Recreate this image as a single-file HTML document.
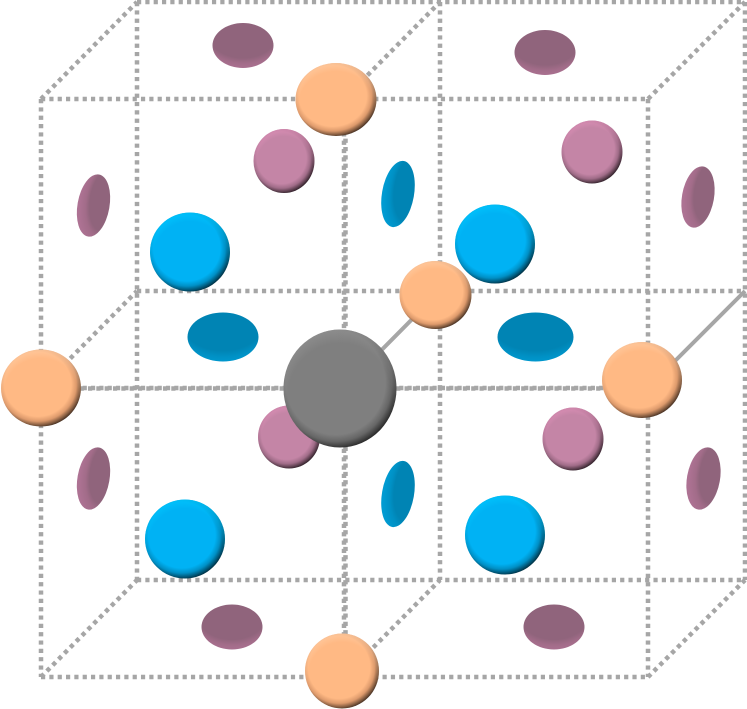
<!DOCTYPE html>
<html><head><meta charset="utf-8"><style>html,body{margin:0;padding:0;background:#fff}svg{display:block}</style></head>
<body>
<svg width="747" height="709" viewBox="0 0 747 709" xmlns="http://www.w3.org/2000/svg">
<defs>
<radialGradient id="sO" cx=".46" cy=".45" r=".58"><stop offset="0" stop-color="#ffb984"/><stop offset=".72" stop-color="#ffb984"/><stop offset=".83" stop-color="#dd9a6c"/><stop offset=".92" stop-color="#80593e"/><stop offset="1" stop-color="#241812"/></radialGradient>
<radialGradient id="sG" cx=".46" cy=".45" r=".58"><stop offset="0" stop-color="#7f7f7f"/><stop offset=".76" stop-color="#7f7f7f"/><stop offset=".86" stop-color="#666"/><stop offset=".93" stop-color="#404040"/><stop offset="1" stop-color="#181818"/></radialGradient>
<radialGradient id="sP" cx=".46" cy=".45" r=".58"><stop offset="0" stop-color="#c485a6"/><stop offset=".7" stop-color="#c485a6"/><stop offset=".82" stop-color="#a06c88"/><stop offset=".92" stop-color="#573b4a"/><stop offset="1" stop-color="#1a1116"/></radialGradient>
<radialGradient id="sB" cx=".46" cy=".45" r=".58"><stop offset="0" stop-color="#00b2f4"/><stop offset=".72" stop-color="#00b2f4"/><stop offset=".83" stop-color="#0090c6"/><stop offset=".92" stop-color="#005474"/><stop offset="1" stop-color="#021a24"/></radialGradient>
<radialGradient id="rO" cx=".5" cy=".58" r=".58"><stop offset=".8" stop-color="#ffd2ac" stop-opacity="0"/><stop offset="1" stop-color="#ffd2ac" stop-opacity=".55"/></radialGradient>
<radialGradient id="rG" cx=".5" cy=".58" r=".58"><stop offset=".8" stop-color="#9a9a9a" stop-opacity="0"/><stop offset="1" stop-color="#9a9a9a" stop-opacity=".5"/></radialGradient>
<radialGradient id="rP" cx=".5" cy=".58" r=".58"><stop offset=".8" stop-color="#e592bc" stop-opacity="0"/><stop offset="1" stop-color="#e592bc" stop-opacity=".6"/></radialGradient>
<radialGradient id="rB" cx=".5" cy=".58" r=".58"><stop offset=".8" stop-color="#00c8ff" stop-opacity="0"/><stop offset="1" stop-color="#00c8ff" stop-opacity=".7"/></radialGradient>
<radialGradient id="hM" cx=".5" cy=".2" r=".85"><stop offset="0" stop-color="#90647c"/><stop offset=".68" stop-color="#90647c"/><stop offset=".82" stop-color="#a26c89"/><stop offset="1" stop-color="#ad7293"/></radialGradient>
<radialGradient id="hB" cx=".5" cy=".2" r=".85"><stop offset="0" stop-color="#0084b4"/><stop offset=".68" stop-color="#0084b4"/><stop offset=".82" stop-color="#0090c4"/><stop offset="1" stop-color="#009bd2"/></radialGradient>
<radialGradient id="vM" cx=".85" cy=".38" r=".8"><stop offset="0" stop-color="#90647c"/><stop offset=".62" stop-color="#90647c"/><stop offset=".76" stop-color="#a26c89"/><stop offset="1" stop-color="#ad7293"/></radialGradient>
<radialGradient id="vB" cx=".85" cy=".38" r=".8"><stop offset="0" stop-color="#0084b4"/><stop offset=".62" stop-color="#0084b4"/><stop offset=".76" stop-color="#0090c4"/><stop offset="1" stop-color="#009bd2"/></radialGradient>
</defs>
<g fill="none" stroke="#a6a6a6" stroke-width="4.500" stroke-dasharray="4.200 4.130">
<path d="M41 99H648M137 2H745M137 580H745M41 677H648M137 291H745"/>
<path d="M41 99V677M137 2V580M648 99V677M745 2V580M440 2V580"/>
<path d="M41 99L137 2M648 99L745 2M41 677L137 580M648 677L745 580M344 99L440 2M344 677L440 580M41 388L137 291"/>
<path d="M344 99V677M41 388H648"/>
<path d="M345.500 99V677" stroke-dashoffset="2"/>
<path d="M41 388.500H648" stroke-dashoffset="3"/>
</g>
<path d="M648 388L745 291M344 388L440 291" stroke="#a6a6a6" stroke-width="4" fill="none"/>

<ellipse cx="243" cy="45.500" rx="30.500" ry="22.500" fill="url(#hM)"/>
<ellipse cx="545" cy="52.500" rx="30.500" ry="22.500" fill="url(#hM)"/>
<ellipse cx="232" cy="627" rx="30.500" ry="22.500" fill="url(#hM)"/>
<ellipse cx="554" cy="627" rx="30.500" ry="22.500" fill="url(#hM)"/>
<ellipse cx="93.500" cy="205.500" rx="16" ry="31.500" transform="rotate(10 93.500 205.500)" fill="url(#vM)"/>
<ellipse cx="698" cy="197" rx="16" ry="31" transform="rotate(10 698 197)" fill="url(#vM)"/>
<ellipse cx="93.500" cy="478.500" rx="16" ry="31.500" transform="rotate(10 93.500 478.500)" fill="url(#vM)"/>
<ellipse cx="703.500" cy="478.500" rx="16.500" ry="31.500" transform="rotate(10 703.500 478.500)" fill="url(#vM)"/>
<ellipse cx="223" cy="337" rx="35.500" ry="24.500" fill="url(#hB)"/>
<ellipse cx="535.500" cy="337" rx="38" ry="24.500" fill="url(#hB)"/>
<ellipse cx="398" cy="194" rx="16" ry="33.500" transform="rotate(10 398 194)" fill="url(#vB)"/>
<ellipse cx="398" cy="494" rx="16" ry="33.500" transform="rotate(10 398 494)" fill="url(#vB)"/>

<ellipse cx="284" cy="161" rx="30.500" ry="32" fill="url(#sP)"/><ellipse cx="284" cy="161" rx="30.500" ry="32" fill="url(#rP)"/>
<ellipse cx="592" cy="152" rx="30.500" ry="31.500" fill="url(#sP)"/><ellipse cx="592" cy="152" rx="30.500" ry="31.500" fill="url(#rP)"/>
<ellipse cx="289" cy="437" rx="31" ry="31.500" fill="url(#sP)"/><ellipse cx="289" cy="437" rx="31" ry="31.500" fill="url(#rP)"/>
<ellipse cx="573" cy="439" rx="30.500" ry="31.500" fill="url(#sP)"/><ellipse cx="573" cy="439" rx="30.500" ry="31.500" fill="url(#rP)"/>
<ellipse cx="190" cy="252" rx="40" ry="39.500" fill="url(#sB)"/><ellipse cx="190" cy="252" rx="40" ry="39.500" fill="url(#rB)"/>
<ellipse cx="495" cy="244" rx="40" ry="39.500" fill="url(#sB)"/><ellipse cx="495" cy="244" rx="40" ry="39.500" fill="url(#rB)"/>
<ellipse cx="185" cy="539" rx="40" ry="39.500" fill="url(#sB)"/><ellipse cx="185" cy="539" rx="40" ry="39.500" fill="url(#rB)"/>
<ellipse cx="505" cy="535" rx="40" ry="39.500" fill="url(#sB)"/><ellipse cx="505" cy="535" rx="40" ry="39.500" fill="url(#rB)"/>
<ellipse cx="336" cy="99.500" rx="40.500" ry="36.500" fill="url(#sO)"/><ellipse cx="336" cy="99.500" rx="40.500" ry="36.500" fill="url(#rO)"/>
<ellipse cx="435.500" cy="295" rx="36" ry="34" fill="url(#sO)"/><ellipse cx="435.500" cy="295" rx="36" ry="34" fill="url(#rO)"/>
<ellipse cx="41" cy="388" rx="40" ry="38.500" fill="url(#sO)"/><ellipse cx="41" cy="388" rx="40" ry="38.500" fill="url(#rO)"/>
<ellipse cx="642" cy="380" rx="40" ry="38" fill="url(#sO)"/><ellipse cx="642" cy="380" rx="40" ry="38" fill="url(#rO)"/>
<ellipse cx="342" cy="671" rx="37" ry="37.500" fill="url(#sO)"/><ellipse cx="342" cy="671" rx="37" ry="37.500" fill="url(#rO)"/>
<ellipse cx="340" cy="388.500" rx="56.500" ry="59" fill="url(#sG)"/><ellipse cx="340" cy="388.500" rx="56.500" ry="59" fill="url(#rG)"/>
</svg>
</body></html>
